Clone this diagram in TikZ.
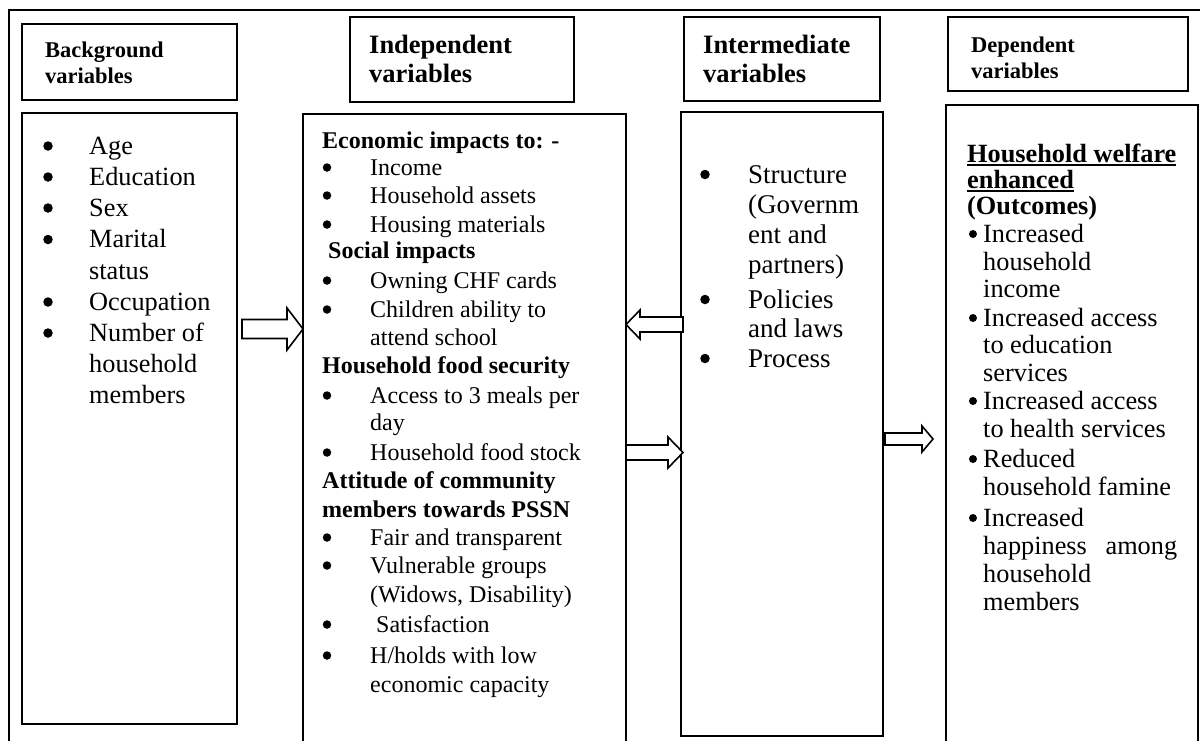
\documentclass[tikz,border=0pt]{standalone}
\usepackage{fontspec}
\setmainfont{Liberation Serif}
\newcommand\fbg{\fontsize{26.3}{30}\selectfont}
\newcommand\fin{\fontsize{24}{28}\selectfont}
\newcommand\fim{\fontsize{27}{31}\selectfont}
\newcommand\fhs{\fontsize{22.5}{26}\selectfont\bfseries}
\newcommand\fhl{\fontsize{26.5}{30}\selectfont\bfseries}
\newsavebox\ulbox
\newcommand\ulx[1]{\sbox\ulbox{#1}\rlap{\rule[-3.5pt]{\wd\ulbox}{1.8pt}}\usebox\ulbox}
\newcounter{tlc}
\newcommand\tline[4]{\stepcounter{tlc}\node[txt,font=#1] (t\arabic{tlc}) at (#2,#3) {#4};}
% bullet: x, baseline y, diameter, raise
\newcommand\bline[4]{\stepcounter{tlc}\node[dot,minimum size=#3] (t\arabic{tlc}) at (#1,#2-#4) {};}
\newcommand\blockarr[6]{\draw[arr] (#1,#3-#4) -- (#2-#6,#3-#4) -- (#2-#6,#3-#5) -- (#2,#3) -- (#2-#6,#3+#5) -- (#2-#6,#3+#4) -- (#1,#3+#4) -- cycle;}
\begin{document}
\begin{tikzpicture}[x=1pt,y=-1pt,
  box/.style={draw,line width=1.5pt,anchor=north west,inner sep=0pt},
  txt/.style={anchor=base west,inner sep=0pt},
  dot/.style={circle,fill=black,inner sep=0pt},
  arr/.style={draw,line width=1.6pt,fill=white,line join=miter}]
\useasboundingbox (0,0) rectangle (1200,740);
\clip (0,0) rectangle (1200,740);
\fill[white] (0,0) rectangle (1200,740);
% outer frame
\draw[line width=1.5pt] (9,780) -- (9,10) -- (1215,10) -- (1215,780);
% boxes
\node[box,minimum width=215pt,minimum height=76pt] (bgh) at (21,23) {};
\node[box,minimum width=215pt,minimum height=611pt] (bgc) at (21,112) {};
\node[box,minimum width=224pt,minimum height=85pt] (inh) at (349,16) {};
\node[box,minimum width=323pt,minimum height=660pt] (inc) at (302,113) {};
\node[box,minimum width=196pt,minimum height=84pt] (imh) at (683,16) {};
\node[box,minimum width=202pt,minimum height=624pt] (imc) at (680,111) {};
\node[box,minimum width=240pt,minimum height=74pt] (dph) at (947,16) {};
\node[box,minimum width=252pt,minimum height=660pt] (dpc) at (945,104) {};
% arrows
\blockarr{242}{303}{329}{9.5}{21}{16}
\blockarr{683}{626}{324.5}{7.5}{14.5}{-14}
\blockarr{626}{683}{452.5}{7.5}{15.5}{15}
\blockarr{885}{933}{439}{6}{13}{11}
% background
\tline{\fhs}{45}{57}{Background}
\tline{\fhs}{45}{83}{variables}
\foreach \y/\b/\t in {154/1/Age,185/1/Education,216/1/Sex,247.5/1/Marital,279/0/status,310/1/Occupation,341/1/Number of,372/0/household,403/0/members}{
  \ifnum\b=1 \bline{48}{\y}{9.5pt}{8}\fi
  \tline{\fbg}{89}{\y}{\t}
}
% independent
\tline{\fhl}{369}{53}{Independent}
\tline{\fhl}{369}{82}{variables}
\foreach \y/\b/\t in {175/1/Income,203/1/Household assets,232/1/Housing materials,288/1/Owning CHF cards,317/1/Children ability to,345/0/attend school,403/1/Access to 3 meals per,430/0/day,460/1/Household food stock,545/1/Fair and transparent,573/1/Vulnerable groups,602/0/{(Widows, Disability)},663/1/{H/holds with low},692/0/economic capacity}{
  \ifnum\b=1 \bline{327}{\y}{8.5pt}{7.5}\fi
  \tline{\fin}{370}{\y}{\t}
}
\bline{327}{632}{8.5pt}{7.5}
\tline{\fin}{376}{632}{Satisfaction}
\tline{\fin\bfseries}{322}{148}{Economic impacts to: -}
\tline{\fin\bfseries}{328}{258}{Social impacts}
\tline{\fin\bfseries}{322}{373}{Household food security}
\tline{\fin\bfseries}{322}{488}{Attitude of community}
\tline{\fin\bfseries}{322}{517}{members towards PSSN}
% intermediate
\tline{\fhl}{703}{53}{Intermediate}
\tline{\fhl}{703}{82}{variables}
\foreach \y/\b/\t in {183/1/Structure,213/0/(Governm,243/0/ent and,273/0/partners),308/1/Policies,337/0/and laws,367/1/Process}{
  \ifnum\b=1 \bline{705}{\y}{9.5pt}{8.5}\fi
  \tline{\fim}{748}{\y}{\t}
}
% dependent
\tline{\fhs}{971}{52}{Dependent}
\tline{\fhs}{971}{78}{variables}
\tline{\fbg\bfseries}{967}{162}{\ulx{Household welfare}}
\tline{\fbg\bfseries}{967}{188}{\ulx{enhanced}}
\tline{\fbg\bfseries}{967}{214}{(Outcomes)}
\foreach \y/\b/\t in {242/1/Increased,270/0/household,297/0/income,326/1/Increased access,353/0/to education,381/0/services,409/1/Increased access,437/0/to health services,467/1/Reduced,495/0/household famine,526/1/Increased,582/0/household,610/0/members}{
  \ifnum\b=1 \bline{973}{\y}{8pt}{8}\fi
  \tline{\fbg}{983}{\y}{\t}
}
\tline{\fbg}{983}{554}{\makebox[194pt][s]{happiness\hfill among}}
\end{tikzpicture}
\end{document}
